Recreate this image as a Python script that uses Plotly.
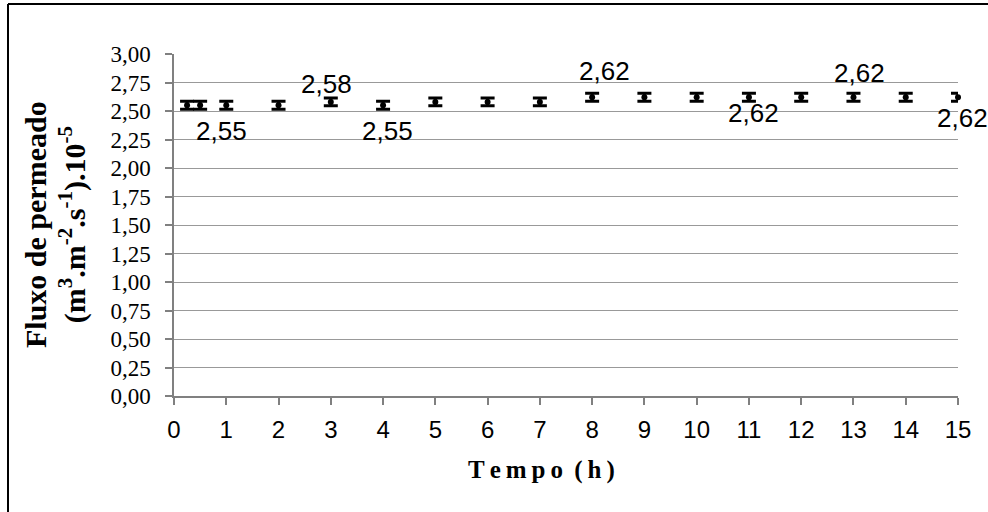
import plotly.graph_objects as go

# ---- data ----
tempo_h = [0.25, 0.5, 1, 2, 3, 4, 5, 6, 7, 8, 9, 10, 11, 12, 13, 14, 15]
fluxo = [2.55, 2.55, 2.55, 2.55, 2.58, 2.55, 2.58, 2.58, 2.58,
         2.62, 2.62, 2.62, 2.62, 2.62, 2.62, 2.62, 2.62]
erro = [0.035] * len(tempo_h)
y_ticks = [0, 0.25, 0.5, 0.75, 1.0, 1.25, 1.5, 1.75, 2.0, 2.25, 2.5, 2.75, 3.0]
x_ticks = list(range(0, 16))

# labelled points: (index, xshift px, yshift px)
label_pts = [(2, -5, -26), (4, -4, 18), (5, 4, -26), (9, 12, 26),
             (12, 5, -16), (14, 6, 24), (16, 4, -21)]

W, H = 988, 512
ML, MR, MT, MB = 174, 30, 54, 116
PW, PH = W - ML - MR, H - MT - MB


def px_to_paper_x(px):
    return (px - ML) / PW


def px_to_paper_y(py):
    return (H - MB - py) / PH


fig = go.Figure()
fig.add_trace(go.Scatter(
    x=tempo_h, y=fluxo, mode="markers",
    marker=dict(color="black", size=6),
    error_y=dict(type="data", array=erro, visible=True, color="black",
                 thickness=3, width=7),
    cliponaxis=False, showlegend=False,
))

annotations = []
for i, xs, ys in label_pts:
    annotations.append(dict(
        x=tempo_h[i], y=fluxo[i], xref="x", yref="y",
        text=f"{fluxo[i]:.2f}".replace(".", ","), showarrow=False,
        xshift=xs, yshift=ys,
        font=dict(family="Liberation Sans, Arial", size=26, color="black"),
    ))

annotations.append(dict(
    x=px_to_paper_x(55), y=0.5, xref="paper", yref="paper",
    text="<b>Fluxo de permeado<br>(m<sup>3</sup>.m<sup>-2</sup>.s<sup>-1</sup>).10<sup>-5</sup></b>",
    textangle=-90, showarrow=False, xanchor="center", yanchor="middle",
    font=dict(family="Liberation Serif, Times New Roman", size=30, color="black"),
))
annotations.append(dict(
    x=px_to_paper_x(541), y=px_to_paper_y(470), xref="paper", yref="paper",
    text="<b>T\u2009e\u2009m\u2009p\u2009o\u2009 (\u2009h\u2009)</b>",
    showarrow=False, xanchor="center", yanchor="middle",
    font=dict(family="Liberation Serif, Times New Roman", size=25, color="black"),
))

shapes = [
    dict(type="line", xref="paper", yref="paper",
         x0=px_to_paper_x(8), x1=px_to_paper_x(1100),
         y0=px_to_paper_y(4), y1=px_to_paper_y(4),
         line=dict(color="black", width=2)),
    dict(type="line", xref="paper", yref="paper",
         x0=px_to_paper_x(8), x1=px_to_paper_x(8),
         y0=px_to_paper_y(4), y1=px_to_paper_y(600),
         line=dict(color="black", width=2)),
]

fig.update_layout(
    width=W, height=H, autosize=False,
    margin=dict(l=ML, r=MR, t=MT, b=MB, pad=0),
    paper_bgcolor="white", plot_bgcolor="white",
    separators=",.",
    annotations=annotations, shapes=shapes,
    xaxis=dict(
        range=[0, 15], tickmode="array", tickvals=x_ticks,
        ticktext=[str(v) for v in x_ticks],
        showgrid=False, zeroline=False,
        showline=True, linecolor="#808080", linewidth=1.5,
        ticks="outside", ticklen=7, tickcolor="#808080", tickwidth=1.5,
        ticklabelstandoff=4,
        tickfont=dict(family="Liberation Sans, Arial", size=24, color="black"),
        fixedrange=True,
    ),
    yaxis=dict(
        range=[0, 3.0], tickmode="array", tickvals=y_ticks,
        tickformat=".2f",
        showgrid=True, gridcolor="#999999", gridwidth=1,
        zeroline=False,
        showline=True, linecolor="#808080", linewidth=1.5,
        ticks="outside", ticklen=7, tickcolor="#808080", tickwidth=1.5,
        ticklabelstandoff=10,
        tickfont=dict(family="Liberation Serif, Times New Roman", size=23, color="black"),
        fixedrange=True,
    ),
)

fig.write_html("out.html")
